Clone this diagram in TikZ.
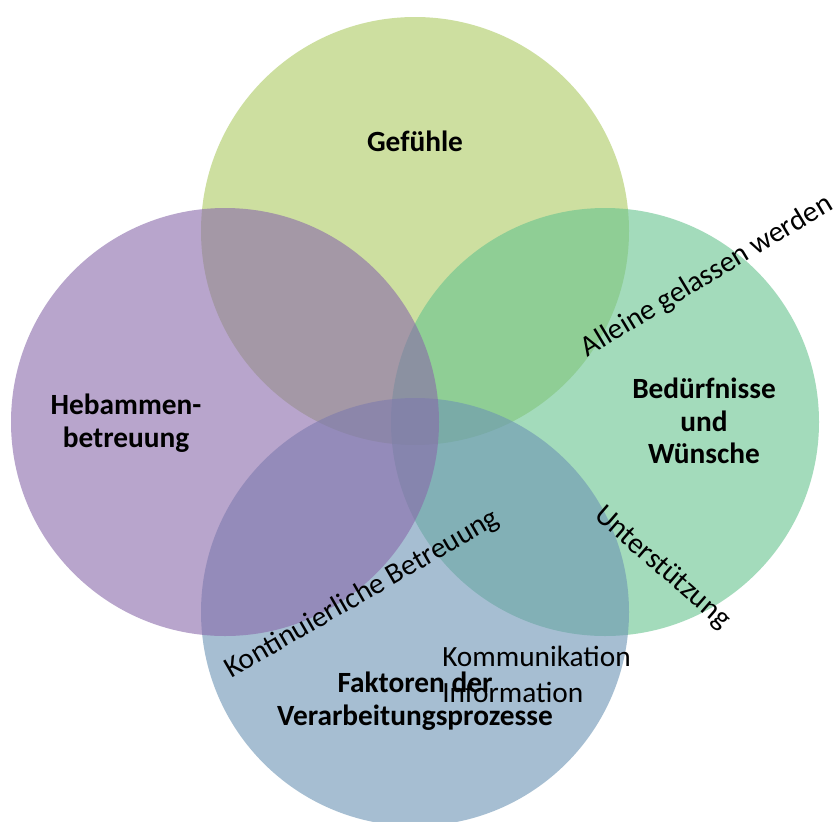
\documentclass[tikz,border=0pt]{standalone}
\usepackage{fontspec}
\setmainfont{Carlito}
\begin{document}
\begin{tikzpicture}[x=0.75pt,y=-0.75pt,
  venn/.style={fill opacity=0.6,draw=none},
  lbl/.style={font=\fontsize{22}{24.5}\selectfont\bfseries,align=center,inner sep=0pt,text=black},
  rel/.style={font=\fontsize{22}{24.5}\selectfont,inner sep=0pt,text=black}]
\definecolor{ctop}{RGB}{172,202,97}
\definecolor{cright}{RGB}{102,195,142}
\definecolor{cbottom}{RGB}{108,148,180}
\definecolor{cleft}{RGB}{137,105,170}
\useasboundingbox (0,0) rectangle (838,821);
\fill[white] (0,0) rectangle (838,821);
\coordinate (ct) at (415,231);
\coordinate (cr) at (605,422);
\coordinate (cb) at (415,612);
\coordinate (cl) at (225,422);
\fill[venn,ctop] (ct) circle[radius=160.5pt];
\fill[venn,cright] (cr) circle[radius=160.5pt];
\fill[venn,cbottom] (cb) circle[radius=160.5pt];
\fill[venn,cleft] (cl) circle[radius=160.5pt];
\node[lbl] (gef) at (415,141) {Gefühle};
\node[lbl] (heb) at (126,423) {Hebammen-\\betreuung};
\node[lbl] (bed) at (704,421) {Bedürfnisse\\und\\Wünsche};
\node[lbl] (fak) at (415,701) {Faktoren der\\Verarbeitungsprozesse};
\node[rel,align=left,anchor=west] (kom) at (442,674) {Kommunikation\\[2.6pt]Information};
\node[rel,anchor=base,rotate=31] (all) at (711,283) {Alleine gelassen werden};
\node[rel,anchor=base,rotate=30] (kon) at (366,601) {Kontinuierliche Betreuung};
\node[rel,rotate=-41] (unt) at (662,568) {Unterstützung};
\end{tikzpicture}
\end{document}
